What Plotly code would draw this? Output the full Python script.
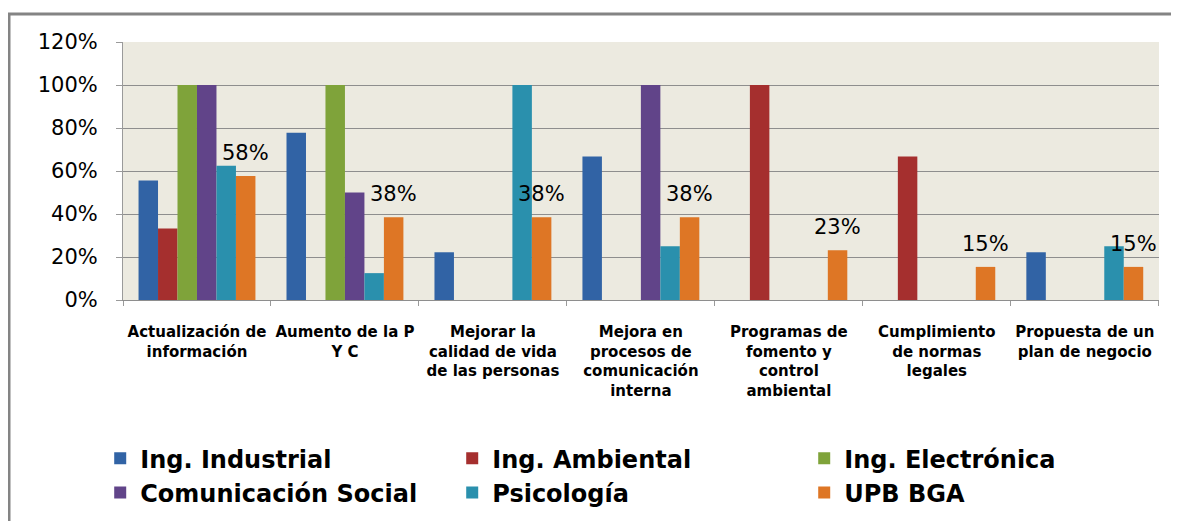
import plotly.graph_objects as go

categories = [
    "Actualización de<br>información",
    "Aumento de la P<br>Y C",
    "Mejorar la<br>calidad de vida<br>de las personas",
    "Mejora en<br>procesos de<br>comunicación<br>interna",
    "Programas de<br>fomento y<br>control<br>ambiental",
    "Cumplimiento<br>de normas<br>legales",
    "Propuesta de un<br>plan de negocio",
]

ing_industrial = [0.556, 0.778, 0.222, 0.667, 0, 0, 0.222]
ing_ambiental = [0.333, 0, 0, 0, 1.0, 0.667, 0]
ing_electronica = [1.0, 1.0, 0, 0, 0, 0, 0]
comunicacion_social = [1.0, 0.5, 0, 1.0, 0, 0, 0]
psicologia = [0.625, 0.125, 1.0, 0.25, 0, 0, 0.25]
upb_bga = [0.577, 0.385, 0.385, 0.385, 0.231, 0.154, 0.154]

series_names = ["Ing. Industrial", "Ing. Ambiental", "Ing. Electrónica",
                "Comunicación Social", "Psicología", "UPB BGA"]
series_values = [ing_industrial, ing_ambiental, ing_electronica,
                 comunicacion_social, psicologia, upb_bga]
colors = ["#3163A5", "#A52F2E", "#7FA33A", "#614489", "#2A90AD", "#DE7625"]

# page body has an 8px margin, so the figure is sized/positioned for it
W, H = 1171, 513
ML, MR, MT, MB = 115, 20, 34, 221
BARGAP = 0.21
FONT = "Verdana, DejaVu Sans, sans-serif"

fig = go.Figure()
for name, vals, col in zip(series_names, series_values, colors):
    fig.add_trace(go.Bar(
        x=categories, y=vals, name=name,
        marker=dict(color=col, line=dict(width=0)),
    ))

# data labels for UPB BGA series, centred over its bar slot
plot_w = W - ML - MR
plot_h = H - MT - MB
cat_px = plot_w / len(categories)
slot = cat_px * (1 - BARGAP) / len(series_names)
xshift = (len(series_names) - 1) / 2 * slot
for c, v in zip(categories, upb_bga):
    fig.add_annotation(
        x=c, y=v, xref="x", yref="y", text=f"{v:.0%}", showarrow=False,
        xshift=xshift, yshift=23, yanchor="middle",
        font=dict(family=FONT, size=21, color="black"),
    )

# outer chart frame
fig.add_shape(
    type="rect", xref="paper", yref="paper",
    x0=(1 - ML) / plot_w, x1=(W + 10 - ML) / plot_w,
    y0=-(MB + 10) / plot_h, y1=1 + (MT - 6) / plot_h,
    line=dict(color="#848484", width=3), fillcolor="rgba(0,0,0,0)", layer="below",
)

fig.update_layout(
    width=W, height=H,
    margin=dict(l=ML, r=MR, t=MT, b=MB, autoexpand=False),
    paper_bgcolor="white",
    plot_bgcolor="#ECEAE0",
    barmode="group", bargap=BARGAP, bargroupgap=0,
    font=dict(family=FONT, color="black"),
    legend=dict(
        orientation="h", x=-0.022, y=-0.528, xanchor="left", yanchor="top",
        entrywidth=307, entrywidthmode="pixels",
        font=dict(family=FONT, size=24, weight="bold", color="black"),
        bgcolor="rgba(0,0,0,0)", traceorder="normal",
    ),
    showlegend=True,
)
fig.update_yaxes(
    range=[0, 1.2], dtick=0.2, tickformat=".0%",
    showgrid=True, gridcolor="#8E8E8E", gridwidth=1,
    showline=True, linecolor="#9A9A9A", linewidth=1,
    ticks="outside", ticklen=6, tickcolor="#9A9A9A",
    ticklabelstandoff=14,
    tickfont=dict(family=FONT, size=21, color="black"),
    zeroline=False,
)
fig.update_xaxes(
    showline=True, linecolor="#8E8E8E", linewidth=1,
    ticks="outside", ticklen=5, tickcolor="#9A9A9A", tickson="boundaries",
    ticklabelstandoff=18, tickangle=0,
    tickfont=dict(family=FONT, size=15, weight="bold", color="black"),
    showgrid=False,
)

fig.write_html("out.html")
